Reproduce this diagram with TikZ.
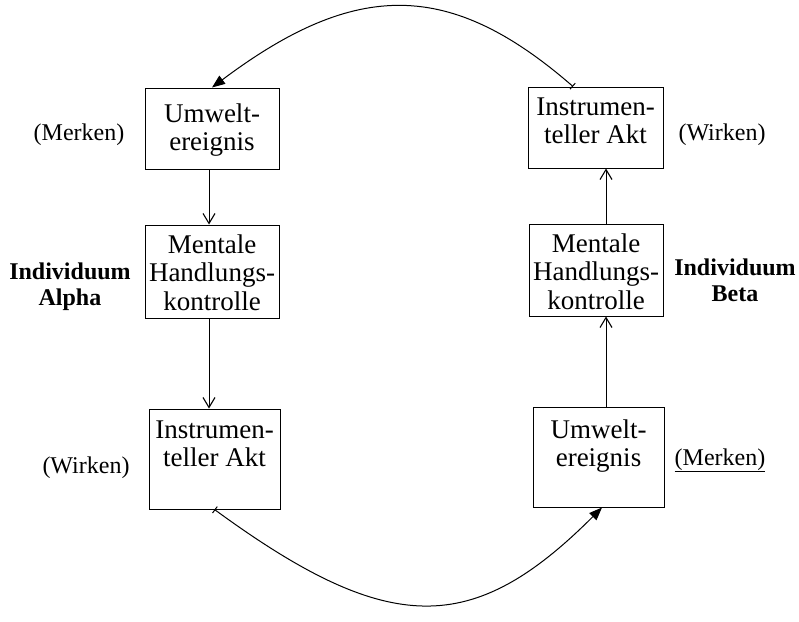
\documentclass[tikz,border=0pt]{standalone}
\usepackage{fontspec}
\setmainfont{Liberation Serif}
\usetikzlibrary{arrows.meta}
\newcommand{\bxtext}[4]{\parbox[c][#2][t]{#1}{\centering\fontsize{27}{28.5}\selectfont\rule{0pt}{#3}#4\par}}
\begin{document}
\begin{tikzpicture}[x=1pt,y=-1pt,
  box/.style={draw,line width=1pt,inner sep=0pt},
  lbl/.style={font=\fontsize{24}{26}\selectfont,anchor=base,inner sep=0pt},
  blbl/.style={font=\fontsize{24}{26}\selectfont\bfseries,align=center,inner sep=0pt},
  conn/.style={line width=1pt},
  vhead/.style={-{Straight Barb[length=10pt,width=12pt,line width=1.1pt]}},
  chead/.style={{Bar[width=8pt,line width=1pt]}-{Triangle[length=13pt,width=10pt]}}
  ]
\useasboundingbox (0,0) rectangle (799,621);
% left column
\node[box] (b1) at (212,128.5) {\bxtext{134pt}{81pt}{34pt}{Umwelt-\\ereignis}};
\node[box] (b2) at (212,271.5) {\bxtext{134pt}{93pt}{28pt}{Mentale\\Handlungs-\\kontrolle}};
\node[box] (b3) at (214.5,459) {\bxtext{131pt}{100pt}{29pt}{Instrumen-\\teller Akt}};
% right column
\node[box] (b4) at (595.5,127.5) {\bxtext{135pt}{81pt}{28pt}{Instrumen-\\teller Akt}};
\node[box] (b5) at (596,270) {\bxtext{134pt}{92pt}{28pt}{Mentale\\Handlungs-\\kontrolle}};
\node[box] (b6) at (598.5,457) {\bxtext{131pt}{100pt}{31pt}{Umwelt-\\ereignis}};
% labels
\node[lbl] (m1) at (79,140) {(Merken)};
\node[blbl] (ia) at (70,287) {Individuum\\Alpha};
\node[lbl] (w1) at (86,473) {(Wirken)};
\node[lbl] (w2) at (722,140) {(Wirken)};
\node[blbl] (ib) at (735,280) {Individuum\\Beta};
\node[lbl] (m2) at (720,465) {\underline{(Merken)}};
% straight arrows
\draw[conn,vhead] ([xshift=-3pt]b1.south) -- ([xshift=-3pt]b2.north);
\draw[conn,vhead] ([xshift=-3pt]b2.south) -- ([xshift=-3pt]b2.south |- b3.north);
\draw[conn,vhead] ([xshift=7.5pt]b6.north) -- ([xshift=7.5pt]b6.north |- b5.south);
\draw[conn,vhead] ([xshift=10pt]b5.north) -- ([xshift=10pt]b5.north |- b4.south);
% curved arrows
\draw[conn,chead] ([xshift=-22.5pt]b4.north) .. controls +(-123,-107) and +(144,-108) .. (b1.north);
\draw[conn,chead] (b3.south) .. controls +(175,128) and +(-129,129) .. ([xshift=3.5pt]b6.south);
\end{tikzpicture}
\end{document}
